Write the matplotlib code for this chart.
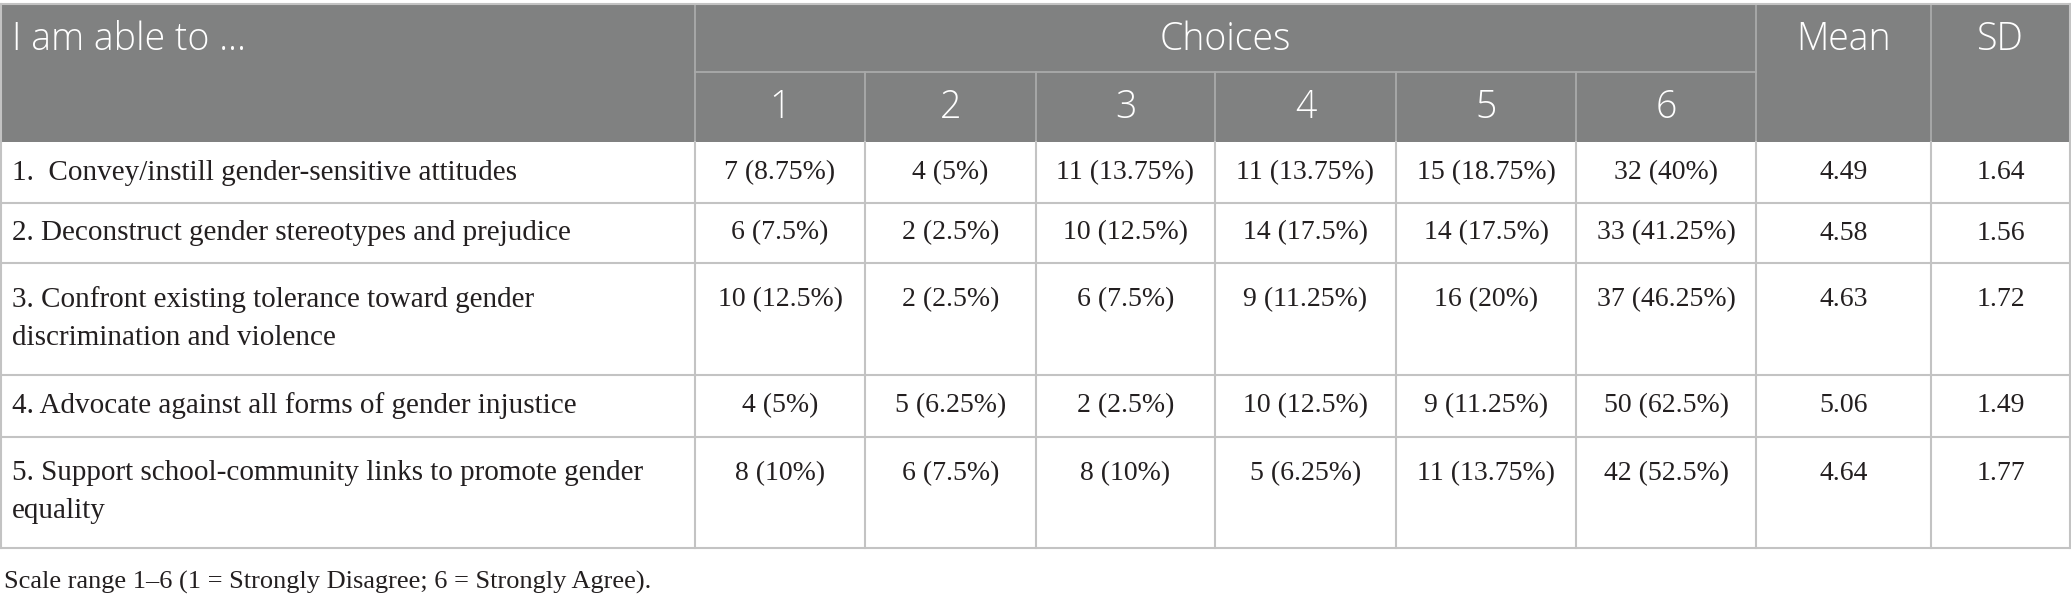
import matplotlib.pyplot as plt
from matplotlib.patches import Rectangle

# Table content
items = [
    "1.  Convey/instill gender-sensitive attitudes",
    "2. Deconstruct gender stereotypes and prejudice",
    "3. Confront existing tolerance toward gender\ndiscrimination and violence",
    "4. Advocate against all forms of gender injustice",
    "5. Support school-community links to promote gender\nequality",
]
counts = [
    [7, 4, 11, 11, 15, 32],
    [6, 2, 10, 14, 14, 33],
    [10, 2, 6, 9, 16, 37],
    [4, 5, 2, 10, 9, 50],
    [8, 6, 8, 5, 11, 42],
]
percents = [
    [8.75, 5, 13.75, 13.75, 18.75, 40],
    [7.5, 2.5, 12.5, 17.5, 17.5, 41.25],
    [12.5, 2.5, 7.5, 11.25, 20, 46.25],
    [5, 6.25, 2.5, 12.5, 11.25, 62.5],
    [10, 7.5, 10, 6.25, 13.75, 52.5],
]
means = [4.49, 4.58, 4.63, 5.06, 4.64]
sds = [1.64, 1.56, 1.72, 1.49, 1.77]
choice_labels = ["1", "2", "3", "4", "5", "6"]
footnote = "Scale range 1\u20136 (1 = Strongly Disagree; 6 = Strongly Agree)."

# Layout in pixels
W, H = 2071, 600
col_x = [1, 695, 865, 1036, 1215, 1396, 1576, 1756, 1931, 2070]
head_top, head_mid, head_bot = 4, 72, 142
row_y = [142, 203, 263, 375, 437, 548]
line_h = 38

header_bg = "#808181"
grid = "#c3c3c3"
head_grid = "#a9aaaa"
text_col = "#231f20"
serif = "Liberation Serif"
sans = "Open Sans"
label_fs = 21
value_fs = 20
head_fs = 27

fig = plt.figure(figsize=(W / 100, H / 100), dpi=100)
ax = fig.add_axes([0, 0, 1, 1])
ax.set_xlim(0, W)
ax.set_ylim(H, 0)
ax.axis("off")

# header background
ax.add_patch(Rectangle((col_x[0], head_top), col_x[-1] - col_x[0],
                       head_bot - head_top, facecolor=header_bg,
                       edgecolor="none"))

# header lines
for x in col_x[1:-1]:
    if x in (col_x[1], col_x[7], col_x[8]):
        ax.plot([x, x], [head_top, head_bot], color=head_grid, lw=1.3)
    else:
        ax.plot([x, x], [head_mid, head_bot], color=head_grid, lw=1.3)
ax.plot([col_x[1], col_x[7]], [head_mid, head_mid], color=head_grid, lw=1.3)

# body lines
for y in row_y[1:]:
    ax.plot([col_x[0], col_x[-1]], [y, y], color=grid, lw=1.5)
for x in col_x:
    ax.plot([x, x], [head_bot, row_y[-1]], color=grid, lw=1.5)
ax.plot([col_x[0], col_x[-1]], [head_top, head_top], color=grid, lw=1.5)
for x in (col_x[0], col_x[-1]):
    ax.plot([x, x], [head_top, head_bot], color=grid, lw=1.5)

# header text
head_kw = dict(color="white", fontsize=head_fs, family=sans,
               fontweight="light", va="center")
ax.text(col_x[0] + 11, 40, "I am able to \u2026", ha="left", **head_kw)
ax.text((col_x[1] + col_x[7]) / 2, 40, "Choices", ha="center", **head_kw)
ax.text((col_x[7] + col_x[8]) / 2, 40, "Mean", ha="center", **head_kw)
ax.text((col_x[8] + col_x[9]) / 2, 40, "SD", ha="center", **head_kw)
for j, lab in enumerate(choice_labels):
    ax.text((col_x[j + 1] + col_x[j + 2]) / 2, 108, lab, ha="center",
            **head_kw)

# body text
for i, item in enumerate(items):
    top, bot = row_y[i], row_y[i + 1]
    n_lines = item.count("\n") + 1
    y0 = (top + bot) / 2 - (n_lines - 1) * line_h / 2
    for k, line in enumerate(item.split("\n")):
        ax.text(col_x[0] + 11, y0 + k * line_h, line, fontsize=label_fs,
                family=serif, color=text_col, ha="left", va="center")
    cells = [f"{c} ({p:g}%)" for c, p in zip(counts[i], percents[i])]
    cells += [f"{means[i]:.2f}", f"{sds[i]:.2f}"]
    for j, cell in enumerate(cells):
        ax.text((col_x[j + 1] + col_x[j + 2]) / 2, y0, cell,
                fontsize=value_fs, family=serif, color=text_col,
                ha="center", va="center")

ax.text(4, 582, footnote, fontsize=19, family=serif,
        color=text_col, ha="left", va="center")

fig.savefig("out.png", dpi=100)
